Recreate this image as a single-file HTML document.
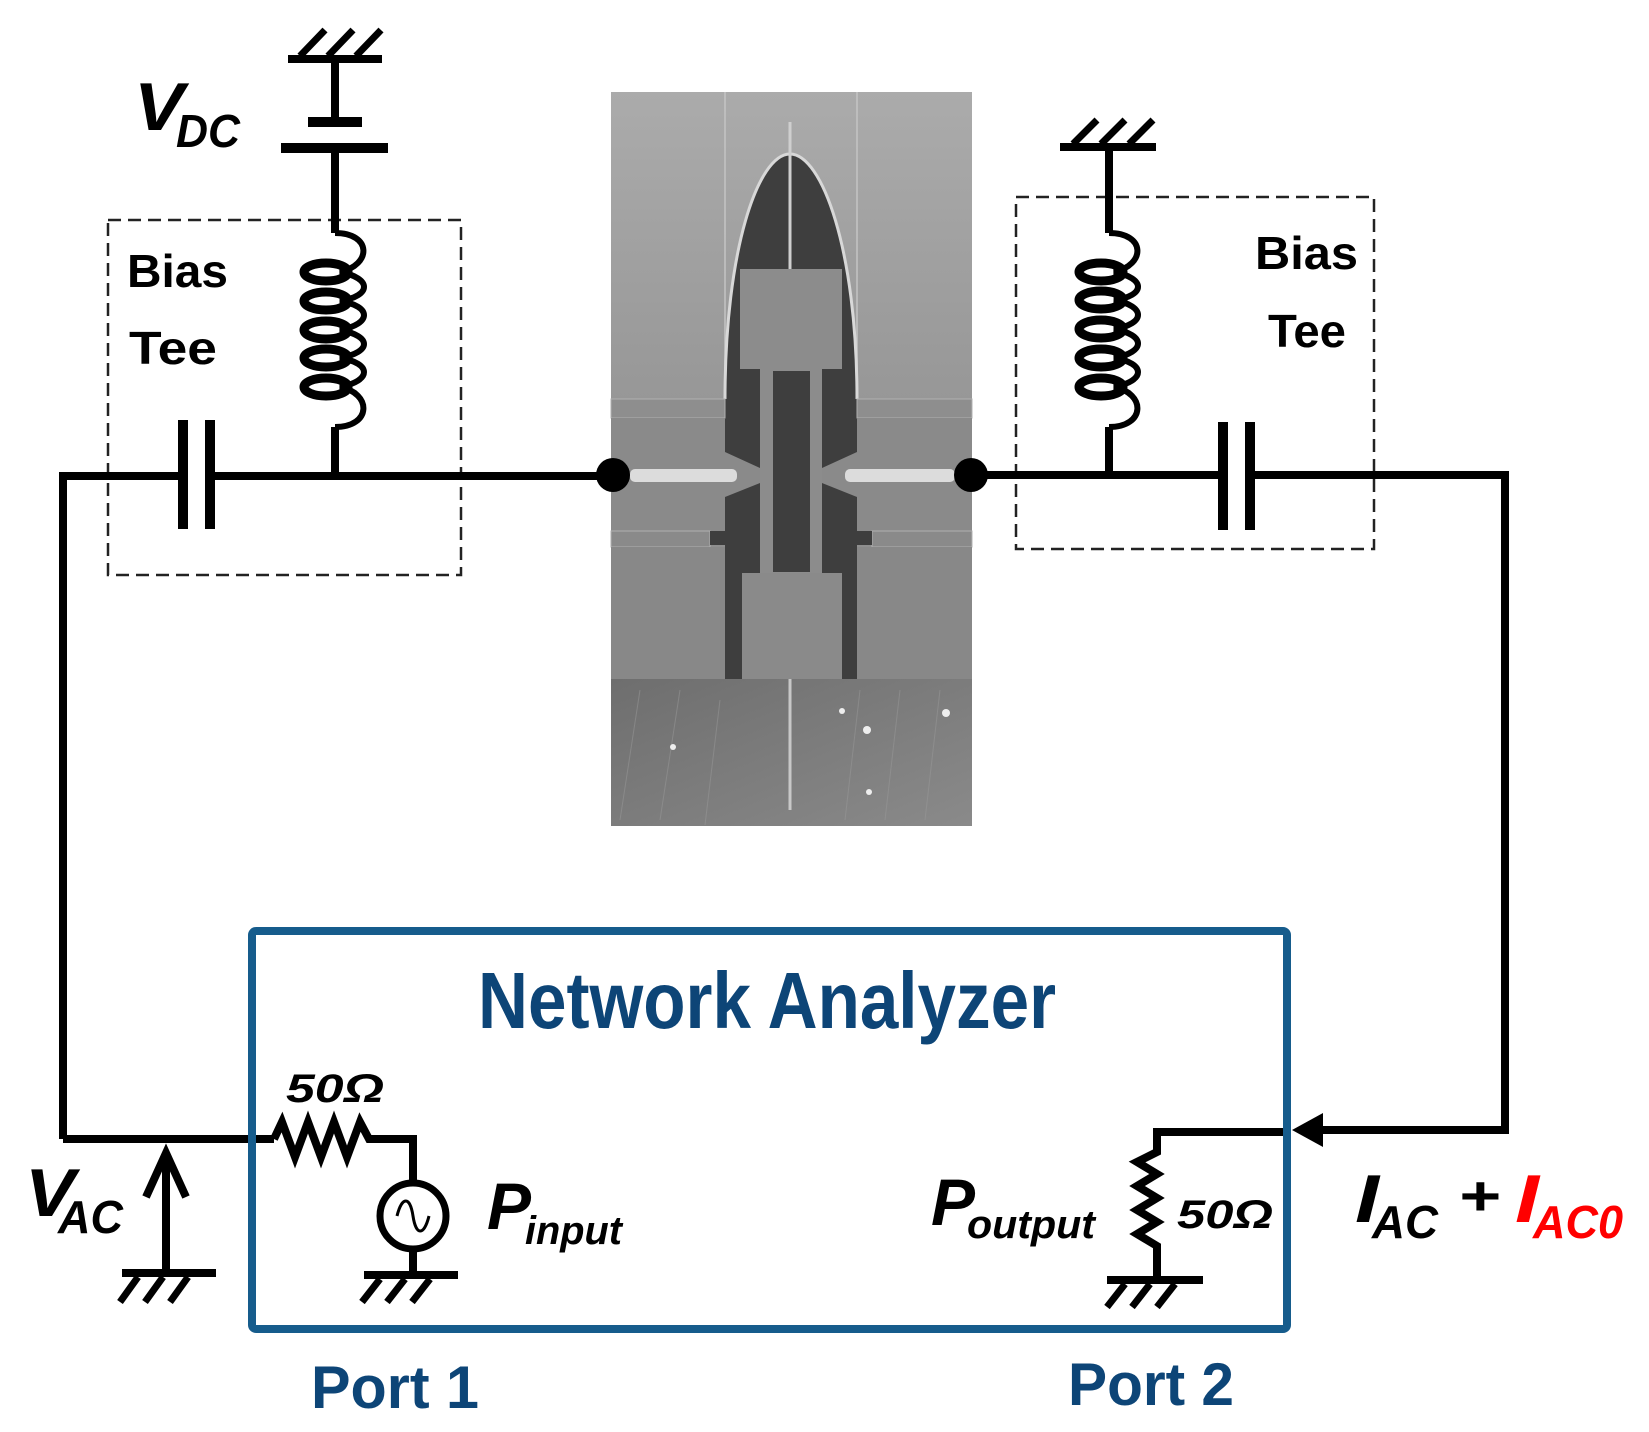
<!DOCTYPE html>
<html><head><meta charset="utf-8"><style>
html,body{margin:0;padding:0;background:#fff;}
svg{display:block;}
text{font-family:"Liberation Sans",sans-serif;font-weight:bold;}
</style></head><body>
<svg width="1649" height="1432" viewBox="0 0 1649 1432" xmlns="http://www.w3.org/2000/svg">
<defs>
<linearGradient id="pg" x1="0" y1="0" x2="0" y2="1">
<stop offset="0" stop-color="#ababab"/><stop offset="1" stop-color="#858585"/>
</linearGradient>
<linearGradient id="bg2" x1="0" y1="0" x2="1" y2="1">
<stop offset="0" stop-color="#6e6e6e"/><stop offset="1" stop-color="#8a8a8a"/>
</linearGradient>
</defs>

<rect x="611" y="92" width="361" height="587" fill="url(#pg)"/>
<rect x="611" y="679" width="361" height="147" fill="url(#bg2)"/>
<g stroke="#9a9a9a" stroke-width="1" opacity="0.5">
<line x1="640" y1="690" x2="620" y2="820"/><line x1="680" y1="690" x2="660" y2="820"/>
<line x1="720" y1="700" x2="705" y2="825"/><line x1="860" y1="690" x2="845" y2="820"/>
<line x1="900" y1="690" x2="885" y2="820"/><line x1="940" y1="690" x2="925" y2="820"/>
</g>
<line x1="790" y1="679" x2="790" y2="810" stroke="#c8c8c8" stroke-width="3"/>
<circle cx="842" cy="711" r="3" fill="#eee"/><circle cx="867" cy="730" r="4" fill="#eee"/>
<circle cx="946" cy="713" r="4" fill="#eee"/><circle cx="673" cy="747" r="3" fill="#eee"/>
<circle cx="869" cy="792" r="3" fill="#eee"/>
<line x1="725" y1="92" x2="725" y2="399" stroke="#c4c4c4" stroke-width="1.5"/>
<line x1="857" y1="92" x2="857" y2="399" stroke="#c4c4c4" stroke-width="1.5"/>
<path d="M725,399 C725,250 758,154 790,154 C822,154 857,250 857,399 L857,679 L725,679 Z" fill="#3e3e3e"/>
<path d="M725,399 C725,250 758,154 790,154 C822,154 857,250 857,399" fill="none" stroke="#d8d8d8" stroke-width="3"/>
<line x1="790" y1="122" x2="790" y2="269" stroke="#cfcfcf" stroke-width="3"/>
<rect x="740" y="269" width="102" height="100" fill="#8c8c8c"/>
<rect x="760" y="369" width="62" height="204" fill="#8c8c8c"/>
<rect x="773" y="371" width="37" height="201" fill="#3e3e3e"/>
<rect x="742" y="573" width="100" height="106" fill="#8a8a8a"/>
<rect x="611" y="399" width="114" height="19" fill="#8e8e8e" stroke="#b0b0b0" stroke-width="1"/>
<path d="M611,418 L725,418 L725,452 L760,468 L760,483 L725,497 L725,531 L611,531 Z" fill="#8a8a8a"/>
<rect x="611" y="531" width="99" height="16" fill="#8a8a8a" stroke="#b0b0b0" stroke-width="1"/>
<rect x="710" y="531" width="15" height="14" fill="#3e3e3e"/>
<rect x="611" y="547" width="114" height="132" fill="#888"/>
<rect x="630" y="469" width="107" height="13" rx="5" fill="#dcdcdc"/>
<rect x="857" y="399" width="115" height="19" fill="#8e8e8e" stroke="#b0b0b0" stroke-width="1"/>
<path d="M972,418 L857,418 L857,452 L822,468 L822,483 L857,497 L857,531 L972,531 Z" fill="#8a8a8a"/>
<rect x="872" y="531" width="100" height="16" fill="#8a8a8a" stroke="#b0b0b0" stroke-width="1"/>
<rect x="857" y="531" width="15" height="14" fill="#3e3e3e"/>
<rect x="857" y="547" width="115" height="132" fill="#888"/>
<rect x="845" y="469" width="110" height="13" rx="5" fill="#dcdcdc"/>

<rect x="108" y="220" width="353" height="355" fill="none" stroke="#222" stroke-width="2.5" stroke-dasharray="13,7"/>
<rect x="1016" y="197" width="358" height="352" fill="none" stroke="#222" stroke-width="2.5" stroke-dasharray="13,7"/>

<g stroke="#000" stroke-width="8" fill="none" stroke-linecap="butt">
<polyline points="63,1139 63,476 183,476"/>
<line x1="210" y1="476" x2="613" y2="476"/>
<line x1="183" y1="420" x2="183" y2="529" stroke-width="10"/>
<line x1="210" y1="420" x2="210" y2="529" stroke-width="10"/>
<line x1="335" y1="148" x2="335" y2="233"/>
<line x1="335" y1="427" x2="335" y2="476"/>
<line x1="335" y1="60" x2="335" y2="122"/>
<line x1="308" y1="122" x2="362" y2="122" stroke-width="10"/>
<line x1="281" y1="148" x2="388" y2="148" stroke-width="10"/>
<line x1="288" y1="59" x2="382" y2="59"/>
<line x1="300" y1="56" x2="325" y2="30" stroke-width="7"/>
<line x1="328" y1="56" x2="353" y2="30" stroke-width="7"/>
<line x1="356" y1="56" x2="381" y2="30" stroke-width="7"/>

<line x1="971" y1="475" x2="1223" y2="475"/>
<polyline points="1250,475 1505,475 1505,1130 1318,1130"/>
<line x1="1223" y1="422" x2="1223" y2="530" stroke-width="10"/>
<line x1="1250" y1="422" x2="1250" y2="530" stroke-width="10"/>
<line x1="1109" y1="147" x2="1109" y2="233"/>
<line x1="1109" y1="427" x2="1109" y2="475"/>
<line x1="1060" y1="147" x2="1156" y2="147"/>
<line x1="1073" y1="144" x2="1097" y2="120" stroke-width="7"/>
<line x1="1101" y1="144" x2="1125" y2="120" stroke-width="7"/>
<line x1="1129" y1="144" x2="1153" y2="120" stroke-width="7"/>

<polyline points="63,1139 274,1139"/>
<polyline points="274,1139 282,1122 295,1157 308,1122 321,1157 334,1122 347,1157 360,1122 369,1139 413,1139 413,1181"/>
<circle cx="413" cy="1216" r="33" stroke-width="7"/>
<line x1="413" y1="1249" x2="413" y2="1275"/>
<line x1="364" y1="1275" x2="458" y2="1275"/>
<line x1="380" y1="1279" x2="362" y2="1302" stroke-width="7"/>
<line x1="405" y1="1279" x2="387" y2="1302" stroke-width="7"/>
<line x1="430" y1="1279" x2="412" y2="1302" stroke-width="7"/>
<line x1="166" y1="1273" x2="166" y2="1155"/>
<polyline points="146,1197 166,1153 186,1197" stroke-linejoin="miter"/>
<line x1="122" y1="1273" x2="216" y2="1273"/>
<line x1="138" y1="1277" x2="120" y2="1302" stroke-width="7"/>
<line x1="163" y1="1277" x2="145" y2="1302" stroke-width="7"/>
<line x1="188" y1="1277" x2="170" y2="1302" stroke-width="7"/>

<polyline points="1290,1132 1157,1132 1157,1152 1137,1162 1157,1174 1137,1186 1157,1198 1137,1210 1157,1222 1137,1234 1157,1246 1157,1280"/>
<line x1="1107" y1="1280" x2="1203" y2="1280"/>
<line x1="1125" y1="1284" x2="1107" y2="1307" stroke-width="7"/>
<line x1="1150" y1="1284" x2="1132" y2="1307" stroke-width="7"/>
<line x1="1175" y1="1284" x2="1157" y2="1307" stroke-width="7"/>
</g>
<path d="M397,1216 C402,1196 410,1196 413,1216 C416,1236 424,1236 429,1216" fill="none" stroke="#000" stroke-width="3"/>
<polygon points="1292,1130 1323,1113 1323,1147" fill="#000"/>

<g fill="none" stroke="#000" stroke-width="6">
<path d="M335,233 C372,233 372,265 340,272 C372,278 372,296 340,301 C372,306 372,324 340,330 C372,336 372,352 340,358 C372,363 372,381 340,387 C372,393 372,427 335,427"/>
<path d="M1109,233 C1146,233 1146,265 1114,272 C1146,278 1146,296 1114,300 C1146,306 1146,324 1114,329 C1146,335 1146,352 1114,358 C1146,363 1146,381 1114,387 C1146,393 1146,427 1109,427"/>
</g>
<g fill="none" stroke="#000" stroke-width="9">
<ellipse cx="326" cy="272" rx="22" ry="9"/>
<ellipse cx="326" cy="301" rx="22" ry="9"/>
<ellipse cx="326" cy="330" rx="22" ry="9"/>
<ellipse cx="326" cy="358" rx="22" ry="9"/>
<ellipse cx="326" cy="387" rx="22" ry="9"/>
<ellipse cx="1101" cy="272" rx="22" ry="9"/>
<ellipse cx="1101" cy="300" rx="22" ry="9"/>
<ellipse cx="1101" cy="329" rx="22" ry="9"/>
<ellipse cx="1101" cy="358" rx="22" ry="9"/>
<ellipse cx="1101" cy="387" rx="22" ry="9"/>
</g>

<circle cx="613" cy="475" r="17" fill="#000"/>
<circle cx="971" cy="475" r="17" fill="#000"/>

<rect x="252" y="931" width="1035" height="398" rx="4" fill="none" stroke="#165c8c" stroke-width="8"/>

<text x="478" y="1028" font-size="80" fill="#0d4577" textLength="578" lengthAdjust="spacingAndGlyphs">Network Analyzer</text>
<text x="311" y="1408" font-size="60" fill="#0d4577" textLength="168" lengthAdjust="spacingAndGlyphs">Port 1</text>
<text x="1068" y="1405" font-size="60" fill="#0d4577" textLength="166" lengthAdjust="spacingAndGlyphs">Port 2</text>

<text x="127" y="287" font-size="46" textLength="101" lengthAdjust="spacingAndGlyphs">Bias</text>
<text x="129" y="364" font-size="46" textLength="88" lengthAdjust="spacingAndGlyphs">Tee</text>
<text x="1255" y="269" font-size="46" textLength="103" lengthAdjust="spacingAndGlyphs">Bias</text>
<text x="1268" y="347" font-size="46" textLength="78" lengthAdjust="spacingAndGlyphs">Tee</text>

<g font-style="italic">
<text x="134" y="130" font-size="68" textLength="50" lengthAdjust="spacingAndGlyphs">V</text>
<text x="176" y="147" font-size="46" textLength="64" lengthAdjust="spacingAndGlyphs">DC</text>
<text x="25" y="1216" font-size="68" textLength="50" lengthAdjust="spacingAndGlyphs">V</text>
<text x="58" y="1233" font-size="46" textLength="65" lengthAdjust="spacingAndGlyphs">AC</text>
<text x="286" y="1102" font-size="40" textLength="98" lengthAdjust="spacingAndGlyphs">50Ω</text>
<text x="1177" y="1228" font-size="40" textLength="96" lengthAdjust="spacingAndGlyphs">50Ω</text>
<text x="487" y="1229" font-size="66" textLength="44" lengthAdjust="spacingAndGlyphs">P</text>
<text x="525" y="1244" font-size="40" textLength="97" lengthAdjust="spacingAndGlyphs">input</text>
<text x="931" y="1225" font-size="66" textLength="44" lengthAdjust="spacingAndGlyphs">P</text>
<text x="967" y="1238" font-size="40" textLength="128" lengthAdjust="spacingAndGlyphs">output</text>
<text x="1355" y="1222" font-size="68" textLength="24" lengthAdjust="spacingAndGlyphs">I</text>
<text x="1372" y="1238" font-size="46" textLength="66" lengthAdjust="spacingAndGlyphs">AC</text>
<text x="1458" y="1215" font-size="56" textLength="42" lengthAdjust="spacingAndGlyphs">+</text>
<text x="1515" y="1222" font-size="68" fill="#ff0000" textLength="24" lengthAdjust="spacingAndGlyphs">I</text>
<text x="1533" y="1238" font-size="46" fill="#ff0000" textLength="90" lengthAdjust="spacingAndGlyphs">AC0</text>
</g>
</svg>
</body></html>
